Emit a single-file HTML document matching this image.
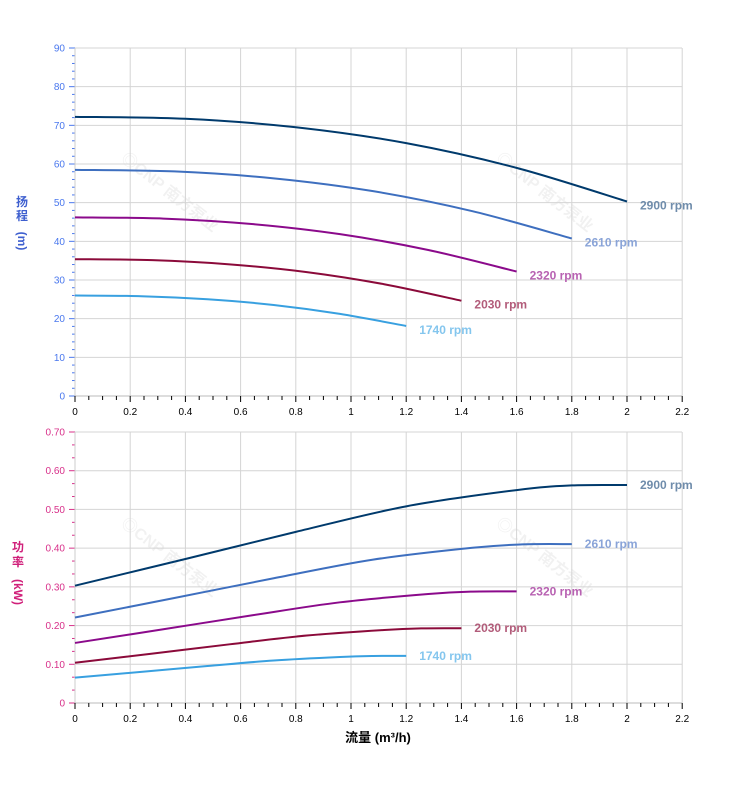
<!DOCTYPE html>
<html><head><meta charset="utf-8"><style>
body{margin:0;background:#fff;width:752px;height:797px;overflow:hidden}
svg text{font-family:"Liberation Sans","Noto Sans CJK SC",sans-serif}
</style></head><body>
<svg id="s" width="752" height="797" xmlns="http://www.w3.org/2000/svg"></svg>
<script>
const s=document.getElementById('s');let h='';
const X0=75,XS=276;const X=q=>X0+q*XS;
// watermarks
function wm(x,y){h+=`<text x="${x}" y="${y}" transform="rotate(38 ${x} ${y})" font-size="16" font-weight="bold" fill="#000" opacity="0.05">◎CNP 南方泵业</text>`;}
wm(120,160);wm(495,160);wm(120,525);wm(495,525);
function panel(top,bot,ymax,ystep,ndec,ycol,minorN,labels){
  const Y=v=>bot-(v/ymax)*(bot-top);
  for(let i=0;i<=11;i++){const x=X(i*0.2);h+=`<line x1="${x}" y1="${top}" x2="${x}" y2="${bot}" stroke="#d4d4d4"/>`;}
  const n=Math.round(ymax/ystep);
  for(let i=0;i<=n;i++){const v=i*ystep,y=Y(v);h+=`<line x1="${X0}" y1="${y}" x2="682" y2="${y}" stroke="#d4d4d4"/>`;
    h+=`<line x1="${X0-6}" y1="${y}" x2="${X0}" y2="${y}" stroke="${ycol}"/>`;
    h+=`<text x="${X0-10}" y="${y+3.5}" font-size="10" text-anchor="end" fill="${ycol}">${i==0?'0':v.toFixed(ndec)}</text>`;
    if(i<n)for(let k=1;k<minorN;k++){const yy=Y(v+ystep*k/minorN);h+=`<line x1="${X0-3}" y1="${yy}" x2="${X0}" y2="${yy}" stroke="${ycol}"/>`;}
  }
  h+=`<line x1="${X0}" y1="${top}" x2="${X0}" y2="${bot}" stroke="#ccc"/>`;
  h+=`<line x1="${X0}" y1="${bot}" x2="682" y2="${bot}" stroke="#bbb"/>`;
  for(let i=0;i<=44;i++){const x=X(i*0.05);h+=`<line x1="${x}" y1="${bot}" x2="${x}" y2="${bot+(i%4==0?6:4)}" stroke="#000"/>`;}
  for(let i=0;i<=11;i++){const v=+(i*0.2).toFixed(1);h+=`<text x="${X(v)}" y="${bot+19}" font-size="10" text-anchor="middle" fill="#000">${v}</text>`;}
  return Y;
}
function spline(pts){let d=`M${pts[0][0]},${pts[0][1]}`;
  for(let i=0;i<pts.length-1;i++){const p0=pts[i-1]||pts[i],p1=pts[i],p2=pts[i+1],p3=pts[i+2]||p2;
    d+=` C${p1[0]+(p2[0]-p0[0])/6},${p1[1]+(p2[1]-p0[1])/6} ${p2[0]-(p3[0]-p1[0])/6},${p2[1]-(p3[1]-p1[1])/6} ${p2[0]},${p2[1]}`;}
  return d;}
const sp=[[2900,1,'#003a6c','#6f8cab'],[2610,0.9,'#3e6fbf','#8aa4d8'],[2320,0.8,'#8b0a8b','#b862b2'],[2030,0.7,'#8b0a3a','#b25c7a'],[1740,0.6,'#38a0e0','#84c6ee']];
const H=[[0,72.2],[0.4,71.7],[0.8,69.5],[1.2,65.4],[1.6,59],[2,50.3]];
const P=[[0,0.303],[0.4,0.372],[0.8,0.442],[1.2,0.508],[1.6,0.55],[1.8,0.562],[2,0.563]];
let Y=panel(48,396,90,10,0,'#4a78ee',5);
sp.forEach(([n,k,c,lc])=>{const pts=H.map(([q,v])=>[X(q*k),Y(v*k*k)]);h+=`<path d="${spline(pts)}" fill="none" stroke="${c}" stroke-width="2"/>`;
  const e=pts[pts.length-1];h+=`<text x="${e[0]+13}" y="${e[1]+8}" font-size="12" font-weight="bold" fill="${lc}">${n} rpm</text>`;});
Y=panel(432,703,0.7,0.1,2,'#d8308a',3);
sp.forEach(([n,k,c,lc])=>{const pts=P.map(([q,v])=>[X(q*k),Y(v*k*k*k)]);h+=`<path d="${spline(pts)}" fill="none" stroke="${c}" stroke-width="2"/>`;
  const e=pts[pts.length-1];h+=`<text x="${e[0]+13}" y="${e[1]+4}" font-size="12" font-weight="bold" fill="${lc}">${n} rpm</text>`;});
h+=`<text x="22" y="206" font-size="12" font-weight="bold" fill="#3e5fcf" text-anchor="middle">扬</text><text x="22" y="220" font-size="12" font-weight="bold" fill="#3e5fcf" text-anchor="middle">程</text>`;
h+=`<text x="22" y="241" font-size="12" font-weight="bold" fill="#3e5fcf" text-anchor="middle" transform="rotate(90 22 241)" dy="4">(m)</text>`;
h+=`<text x="18" y="551" font-size="12" font-weight="bold" fill="#d0207a" text-anchor="middle">功</text><text x="18" y="566" font-size="12" font-weight="bold" fill="#d0207a" text-anchor="middle">率</text>`;
h+=`<text x="18" y="592" font-size="12" font-weight="bold" fill="#d0207a" text-anchor="middle" transform="rotate(90 18 592)" dy="4">(kW)</text>`;
h+=`<text x="378" y="742" font-size="13" font-weight="bold" fill="#000" text-anchor="middle">流量 (m³/h)</text>`;
s.innerHTML=h;
</script>
</body></html>
